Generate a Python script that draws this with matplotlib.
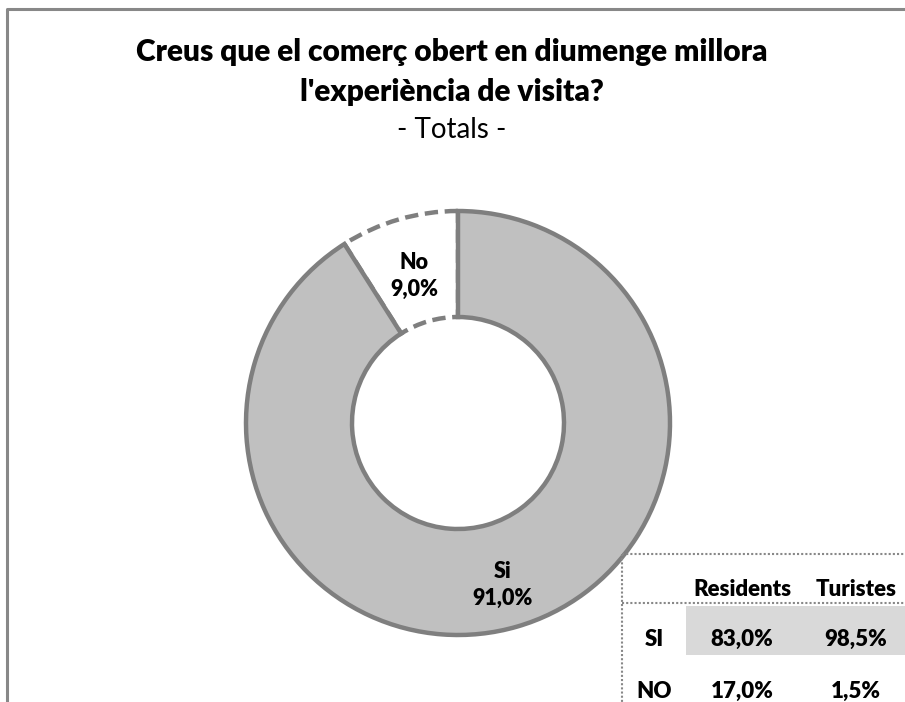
import numpy as np
import matplotlib.pyplot as plt
from matplotlib.patches import Rectangle

plt.rcParams['font.family'] = ['Lato', 'DejaVu Sans']

# Donnees
labels = ['Si', 'No']
values = [91.0, 9.0]
table_cols = ['Residents', 'Turistes']
table_rows = ['SI', 'NO']
table_vals = [[83.0, 98.5], [17.0, 1.5]]

def pct(v):
    return f"{v:.1f}%".replace('.', ',')

fig = plt.figure(figsize=(9.05, 7.02), dpi=100)
ax = fig.add_axes([0, 0, 1, 1])

H = 702
# cadre du graphique
ax.plot([7, 7, 910], [-5, H - 9, H - 9], color='#888888', lw=2.2, solid_capstyle='butt')

# Donut
cx, cy, R = 458, H - 423, 212
wedges, _ = ax.pie(values, startangle=90, counterclock=False, center=(cx, cy), radius=R,
                   colors=['#c0c0c0', 'white'],
                   wedgeprops=dict(width=R * 0.5, edgecolor='#7f7f7f', linewidth=3.2),
                   frame=True)
wedges[0].set_zorder(3)
wedges[1].set_zorder(2)
wedges[1].set_linestyle((0, (3, 1.5)))
ax.set_xlim(0, 905)
ax.set_ylim(0, 702)
ax.set_aspect('equal')
ax.axis('off')

bw = 'heavy'
ax.text(414, H - 276, f"{labels[1]}\n{pct(values[1])}", ha='center', va='center',
        fontsize=15.5, fontweight=bw, linespacing=1.4, zorder=5)
ax.text(503, H - 585, f"{labels[0]}\n{pct(values[0])}", ha='center', va='center',
        fontsize=15.5, fontweight=bw, linespacing=1.4, zorder=5)

# Titre
ax.text(452, H - 52, "Creus que el comerç obert en diumenge millora", ha='center', va='center',
        fontsize=21.5, fontweight=bw)
ax.text(452, H - 92, "l'experiència de visita?", ha='center', va='center',
        fontsize=21.5, fontweight=bw)
ax.text(452, H - 130, "- Totals -", ha='center', va='center', fontsize=20)

# Tableau
dot = dict(color='#888888', lw=1.5, ls=(0, (1, 1)))
ax.plot([622, 910], [H - 554, H - 554], zorder=6, **dot)
ax.plot([622, 622], [H - 554, -5], zorder=6, **dot)
ax.plot([622, 910], [H - 603, H - 603], zorder=6, **dot)
ax.add_patch(Rectangle((686, H - 655), 230, 49, facecolor='#d9d9d9', edgecolor='none', zorder=4))

col_x = [742, 856]
for x, c in zip(col_x, table_cols):
    ax.text(x, H - 590, c, ha='center', va='center', fontsize=16, fontweight=bw, zorder=7)
row_y = [H - 639, H - 691]
for y, r, vals in zip(row_y, table_rows, table_vals):
    ax.text(654, y, r, ha='center', va='center', fontsize=16, fontweight=bw, zorder=7)
    for x, v in zip(col_x, vals):
        ax.text(x, y, pct(v), ha='center', va='center', fontsize=16, fontweight=bw, zorder=7)

fig.savefig('out.png', dpi=100)
